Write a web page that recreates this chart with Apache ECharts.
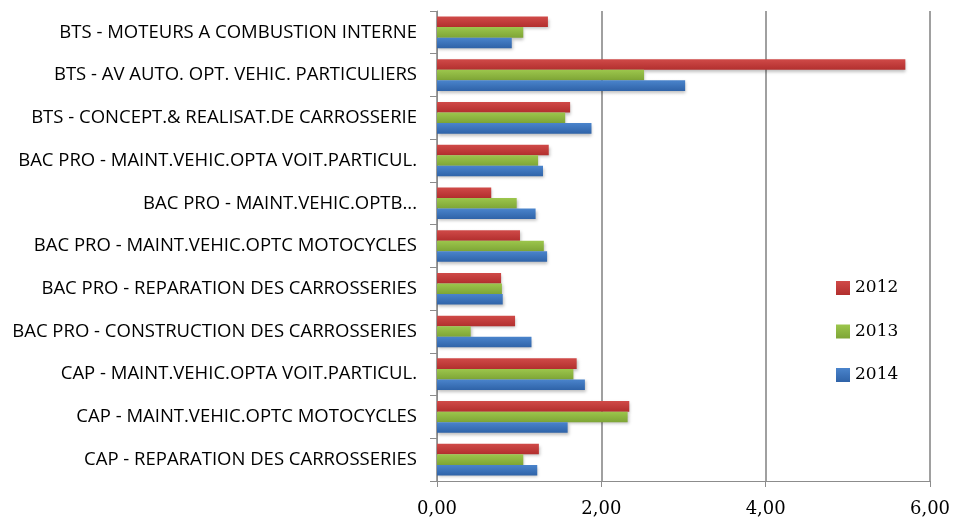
<!DOCTYPE html>
<html>
<head>
<meta charset="utf-8">
<script src="https://cdn.jsdelivr.net/npm/echarts@6/dist/echarts.min.js"></script>
<style>html,body{margin:0;padding:0;background:#fff;}#c{width:954px;height:518px;}</style>
</head>
<body>
<div id="c"></div>
<script>
// Categories listed from bottom to top
const categories = [
  "CAP - REPARATION DES CARROSSERIES",
  "CAP - MAINT.VEHIC.OPTC MOTOCYCLES",
  "CAP - MAINT.VEHIC.OPTA VOIT.PARTICUL.",
  "BAC PRO - CONSTRUCTION DES CARROSSERIES",
  "BAC PRO - REPARATION DES CARROSSERIES",
  "BAC PRO - MAINT.VEHIC.OPTC MOTOCYCLES",
  "BAC PRO - MAINT.VEHIC.OPTB...",
  "BAC PRO - MAINT.VEHIC.OPTA VOIT.PARTICUL.",
  "BTS - CONCEPT.& REALISAT.DE CARROSSERIE",
  "BTS - AV AUTO. OPT. VEHIC. PARTICULIERS",
  "BTS - MOTEURS A COMBUSTION INTERNE"
];
const values2012 = [1.24, 2.34, 1.70, 0.95, 0.78, 1.01, 0.66, 1.36, 1.62, 5.70, 1.35];
const values2013 = [1.05, 2.32, 1.66, 0.41, 0.79, 1.30, 0.97, 1.23, 1.56, 2.52, 1.05];
const values2014 = [1.22, 1.59, 1.80, 1.15, 0.80, 1.34, 1.20, 1.29, 1.88, 3.02, 0.91];
const seriesNames = ["2012", "2013", "2014"];

const chart = echarts.init(document.getElementById('c'), null, {renderer: 'canvas'});
function grad(c1, c2) {
  return new echarts.graphic.LinearGradient(0, 0, 0, 1, [{offset: 0, color: c1}, {offset: 1, color: c2}]);
}
const shadow = {shadowColor: 'rgba(0,0,0,0.25)', shadowBlur: 3, shadowOffsetX: 1, shadowOffsetY: 2};
function mk(name, data, c1, c2) {
  return {
    type: 'bar', name: name, data: data,
    barGap: '0%', barCategoryGap: '26%',
    itemStyle: Object.assign({color: grad(c1, c2)}, shadow)
  };
}
chart.setOption({
  animation: false,
  backgroundColor: '#fff',
  grid: {left: 437, right: 24, top: 11, bottom: 37, containLabel: false},
  legend: {
    orient: 'vertical',
    left: 831, top: 273,
    itemGap: 23.5,
    itemWidth: 14, itemHeight: 14,
    icon: 'rect',
    data: seriesNames,
    textStyle: {fontFamily: 'DejaVu Serif', fontSize: 17, lineHeight: 20, color: '#000', padding: [0, 0, 0, 0]}
  },
  xAxis: {
    type: 'value', min: 0, max: 6, interval: 2,
    axisLine: {show: true, lineStyle: {color: '#8c8c8c', width: 1}},
    axisTick: {show: true, length: 6, lineStyle: {color: '#8c8c8c'}},
    splitLine: {show: true, lineStyle: {color: '#a0a0a0', width: 2}},
    axisLabel: {
      formatter: v => v.toFixed(2).replace('.', ','),
      fontFamily: 'DejaVu Serif', fontSize: 18, color: '#000', margin: 19
    }
  },
  yAxis: {
    type: 'category', data: categories,
    axisLine: {show: true, lineStyle: {color: '#8c8c8c', width: 1}},
    axisTick: {show: true, length: 7, lineStyle: {color: '#8c8c8c'}},
    axisLabel: {fontFamily: 'Open Sans', fontSize: 18.5, color: '#000', margin: 20}
  },
  series: [
    mk('2012', values2012, '#d04a48', '#b22f2e'),
    mk('2013', values2013, '#9cc64c', '#7ea536'),
    mk('2014', values2014, '#4a84cc', '#2f63a8')
  ]
});
</script>
</body>
</html>
